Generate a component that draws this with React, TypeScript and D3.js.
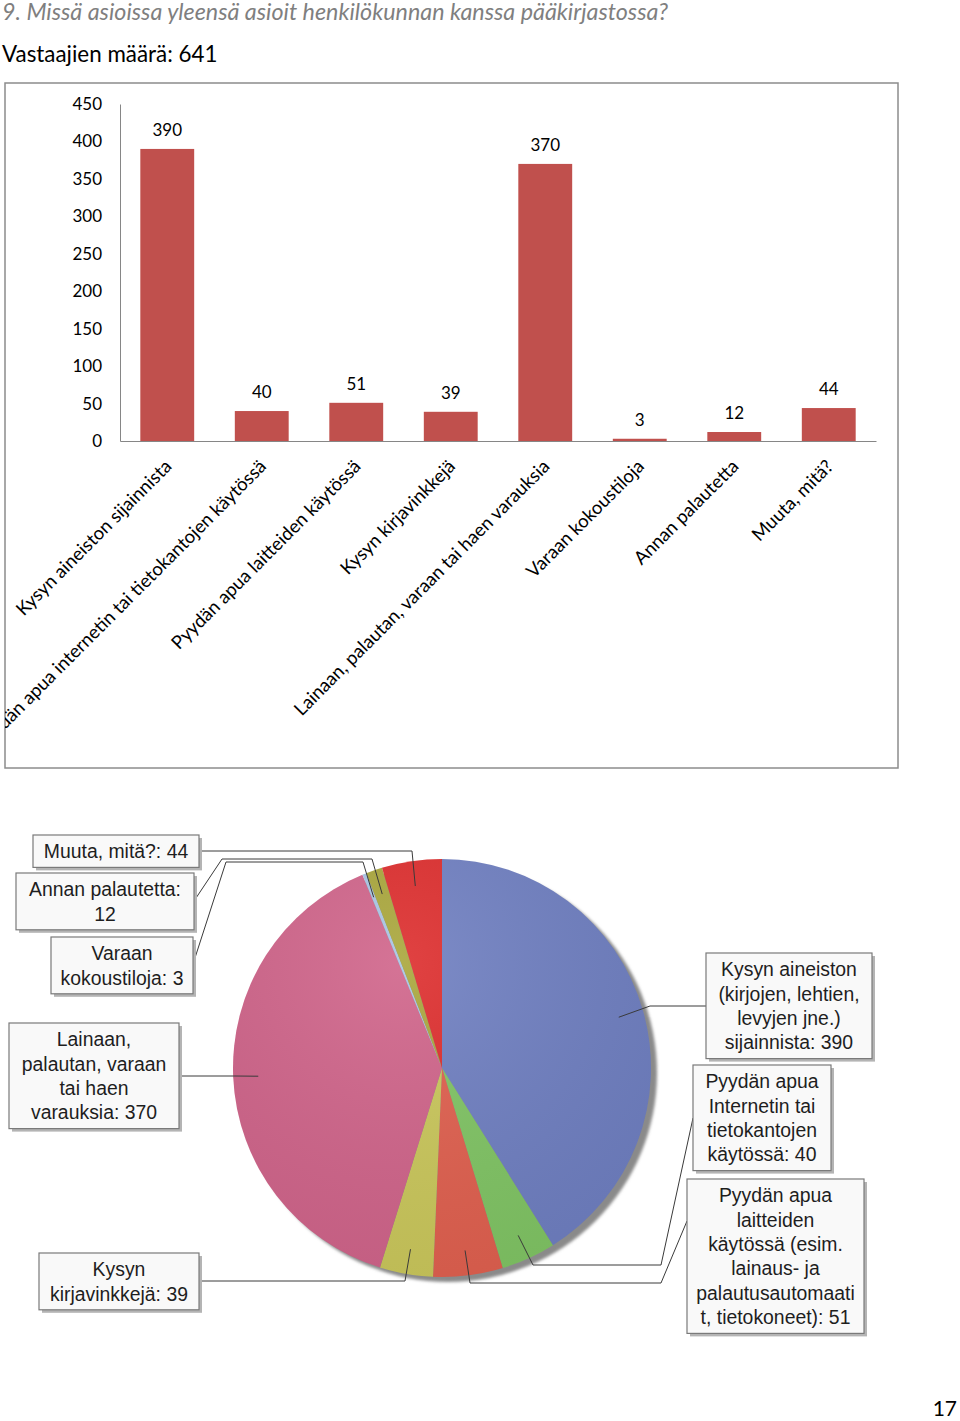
import React, { useRef, useEffect } from "react";
import * as d3 from "d3";

// categories in the order of the bar chart (and the pie, clockwise from 12 o'clock)
const barCategories = [
	"Kysyn aineiston sijainnista",
	"Pyydän apua internetin tai tietokantojen käytössä",
	"Pyydän apua laitteiden käytössä",
	"Kysyn kirjavinkkejä",
	"Lainaan, palautan, varaan tai haen varauksia",
	"Varaan kokoustiloja",
	"Annan palautetta",
	"Muuta, mitä?",
];
const barValues = [390, 40, 51, 39, 370, 3, 12, 44];
const yTicks = [0, 50, 100, 150, 200, 250, 300, 350, 400, 450];

// pie label texts, {v} is replaced with the value
const pieLabelTexts = [
	"Kysyn aineiston\n(kirjojen, lehtien,\nlevyjen jne.)\nsijainnista: {v}",
	"Pyydän apua\nInternetin tai\ntietokantojen\nkäytössä: {v}",
	"Pyydän apua\nlaitteiden\nkäytössä (esim.\nlainaus- ja\npalautusautomaati\nt, tietokoneet): {v}",
	"Kysyn\nkirjavinkkejä: {v}",
	"Lainaan,\npalautan, varaan\ntai haen\nvarauksia: {v}",
	"Varaan\nkokoustiloja: {v}",
	"Annan palautetta:\n{v}",
	"Muuta, mitä?: {v}",
];
const pieColors = [
	"#6f7fc1",
	"#80c464",
	"#e0604f",
	"#cac75b",
	"#d0648a",
	"#a8c4e4",
	"#a9a63b",
	"#dd2d2d",
];

const title = "9. Missä asioissa yleensä asioit henkilökunnan kanssa pääkirjastossa?";
const subtitle = "Vastaajien määrä: 641";
const pageNumber = "17";

// label box layout: box rect and leader elbow points (box side first)
const boxLayout = [
	{ x: 706, y: 953, w: 166, path: [[706, 1006], [650, 1006]] },
	{ x: 693, y: 1065, w: 138, path: [[693, 1118], [661, 1265], [533, 1265]] },
	{ x: 687, y: 1179, w: 177, path: [[687, 1221], [661, 1283], [470, 1283]] },
	{ x: 39, y: 1253, w: 160, path: [[199, 1281], [405, 1281]] },
	{ x: 9, y: 1023, w: 170, path: [[179, 1076], [235, 1076]] },
	{ x: 51, y: 937, w: 142, path: [[193, 964], [226, 862], [363, 862]] },
	{ x: 16, y: 873, w: 178, path: [[194, 901], [222, 859], [372, 859]] },
	{ x: 33, y: 835, w: 166, path: [[199, 851], [412, 851]] },
];

const App = () => {
	const svgRef = useRef<SVGSVGElement | null>(null);

	useEffect(() => {
		if (!svgRef.current) return;
		const svg = d3.select(svgRef.current);
		svg.selectAll("*").remove();

		const calibri = "Lato, 'Open Sans', sans-serif";
		const arial = "'Liberation Sans', Arial, sans-serif";

		svg.append("text")
			.attr("x", 2)
			.attr("y", 20)
			.style("font-family", calibri)
			.style("font-style", "italic")
			.style("font-size", "23.3px")
			.attr("fill", "#7f7f7f")
			.text(title);

		svg.append("text")
			.attr("x", 2)
			.attr("y", 62)
			.style("font-family", calibri)
			.style("font-size", "22.4px")
			.attr("fill", "#000")
			.text(subtitle);

		// ---- bar chart ----
		const frame = { x: 5, y: 83, w: 893, h: 685 };
		const defs = svg.append("defs");
		defs.append("clipPath")
			.attr("id", "frameClip")
			.append("rect")
			.attr("x", frame.x)
			.attr("y", frame.y)
			.attr("width", frame.w)
			.attr("height", frame.h);

		svg.append("rect")
			.attr("x", frame.x)
			.attr("y", frame.y)
			.attr("width", frame.w)
			.attr("height", frame.h)
			.attr("fill", "#fff")
			.attr("stroke", "#8c8c8c")
			.attr("stroke-width", 1.5);

		const chart = svg.append("g").attr("clip-path", "url(#frameClip)");

		const x = d3
			.scaleBand()
			.domain(barCategories)
			.range([120, 876])
			.paddingInner(0.43)
			.paddingOuter(0.215);
		const y = d3.scaleLinear().domain([0, 450]).range([441, 104]);

		chart.selectAll(".bar")
			.data(barValues)
			.enter()
			.append("rect")
			.attr("x", (_, i) => x(barCategories[i])!)
			.attr("y", (d) => y(d))
			.attr("width", x.bandwidth())
			.attr("height", (d) => y(0) - y(d))
			.attr("fill", "#c0504d");

		chart.selectAll(".val")
			.data(barValues)
			.enter()
			.append("text")
			.attr("x", (_, i) => x(barCategories[i])! + x.bandwidth() / 2)
			.attr("y", (d) => y(d) - 13)
			.attr("text-anchor", "middle")
			.style("font-family", calibri)
			.style("font-size", "17px")
			.attr("fill", "#000")
			.text((d) => d);

		const yAxis = d3.axisLeft(y).tickValues(yTicks).tickSize(0).tickPadding(18);
		const ya = chart.append("g").attr("transform", "translate(120,0)").call(yAxis);
		ya.select(".domain").attr("stroke", "#868686");
		ya.selectAll("text")
			.style("font-family", calibri)
			.style("font-size", "17px")
			.attr("fill", "#000");

		// category labels, rotated; the long one is cut by the frame as in the original
		const xAxis = d3.axisBottom(x).tickSize(0);
		const xa = chart.append("g").attr("transform", `translate(0,${y(0)})`).call(xAxis);
		xa.select(".domain").attr("stroke", "#868686");
		xa.selectAll("text")
			.attr("x", 0)
			.attr("y", 0)
			.attr("dy", "0.35em")
			.attr("transform", "translate(1,22) rotate(-45)")
			.style("text-anchor", "end")
			.style("font-family", calibri)
			.style("font-size", "18.5px")
			.attr("fill", "#000");

		// ---- pie chart ----
		const cx = 442;
		const cy = 1068;
		const r = 209;

		const shadow = defs.append("filter").attr("id", "pieShadow").attr("x", "-10%").attr("y", "-10%").attr("width", "120%").attr("height", "120%");
		shadow.append("feGaussianBlur").attr("stdDeviation", 1.5);

		svg.append("circle")
			.attr("cx", cx + 6)
			.attr("cy", cy + 5)
			.attr("r", r)
			.attr("fill", "#8a8a8a")
			.attr("filter", "url(#pieShadow)");

		const pie = d3.pie<number>().sort(null).value((d) => d);
		const arcs = pie(barValues);
		const arc = d3.arc<d3.PieArcDatum<number>>().innerRadius(0).outerRadius(r);
		const anchorArc = d3
			.arc<d3.PieArcDatum<number>>()
			.innerRadius(r * 0.88)
			.outerRadius(r * 0.88);

		const pg = svg.append("g").attr("transform", `translate(${cx},${cy})`);
		pg.selectAll("path")
			.data(arcs)
			.enter()
			.append("path")
			.attr("d", arc)
			.attr("fill", (_, i) => pieColors[i]);

		// subtle lighting over the pie
		const light = defs.append("radialGradient").attr("id", "pieLight").attr("cx", "40%").attr("cy", "25%").attr("r", "80%");
		light.append("stop").attr("offset", "0%").attr("stop-color", "#fff").attr("stop-opacity", 0.1);
		light.append("stop").attr("offset", "100%").attr("stop-color", "#000").attr("stop-opacity", 0.06);
		pg.append("circle").attr("r", r).attr("fill", "url(#pieLight)");

		// leader lines
		const line = d3.line();
		arcs.forEach((a, i) => {
			const [ax, ay] = anchorArc.centroid(a);
			const pts = [...boxLayout[i].path, [cx + ax, cy + ay]] as [number, number][];
			svg.append("path")
				.attr("d", line(pts))
				.attr("fill", "none")
				.attr("stroke", "#3a3a3a")
				.attr("stroke-width", 1);
		});

		// label boxes
		const lineH = 24.4;
		barValues.forEach((v, i) => {
			const lines = pieLabelTexts[i].replace("{v}", String(v)).split("\n");
			const b = boxLayout[i];
			const h = lines.length * lineH + 8;
			const g = svg.append("g");
			g.append("rect")
				.attr("x", b.x + 3)
				.attr("y", b.y + 3)
				.attr("width", b.w)
				.attr("height", h)
				.attr("fill", "#b4b4b4");
			g.append("rect")
				.attr("x", b.x)
				.attr("y", b.y)
				.attr("width", b.w)
				.attr("height", h)
				.attr("fill", "#f9f9f9")
				.attr("stroke", "#7a7a7a")
				.attr("stroke-width", 1.2);
			const t = g
				.append("text")
				.attr("text-anchor", "middle")
				.style("font-family", arial)
				.style("font-size", "19.4px")
				.attr("fill", "#1e1e1e");
			lines.forEach((ln, k) => {
				t.append("tspan")
					.attr("x", b.x + b.w / 2)
					.attr("y", b.y + 4 + lineH * (k + 0.5))
					.attr("dy", "0.36em")
					.text(ln);
			});
		});

		svg.append("text")
			.attr("x", 957)
			.attr("y", 1416)
			.attr("text-anchor", "end")
			.style("font-family", calibri)
			.style("font-size", "21px")
			.attr("fill", "#000")
			.text(pageNumber);
	}, []);

	return (
		<div style={{ position: "absolute", left: 0, top: 0 }}>
			<svg ref={svgRef} width={960} height={1421} style={{ display: "block" }}></svg>
		</div>
	);
};

export default App;
